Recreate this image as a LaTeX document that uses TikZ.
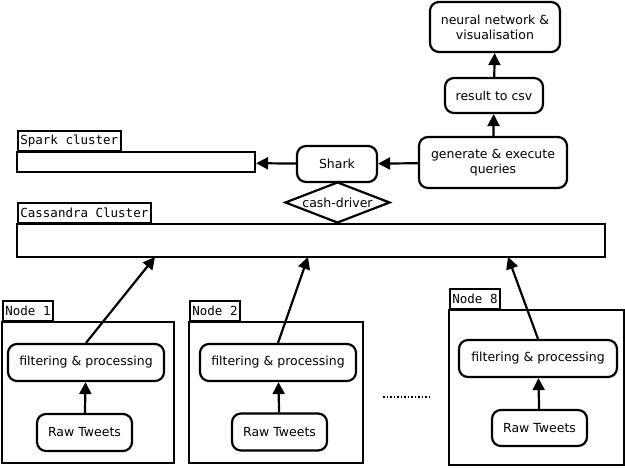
\documentclass[tikz,border=0pt]{standalone}
\usepackage{fontspec}
\setmainfont{DejaVu Sans}
\setmonofont{DejaVu Sans Mono}
\usetikzlibrary{shapes.geometric,arrows.meta}
\begin{document}
\begin{tikzpicture}[x=1pt,y=-1pt,
  font=\fontsize{12.5}{15}\selectfont,
  rbox/.style={draw,line width=2.2pt,rounded corners=9pt,inner sep=0pt,align=center},
  pbox/.style={draw,line width=2.2pt,inner sep=0pt},
  tag/.style={draw,line width=1.8pt,anchor=south west,inner xsep=2.5pt,inner ysep=0pt,minimum height=20pt,font=\fontsize{12.5}{15}\selectfont\ttfamily},
  arr/.style={line width=2.2pt,-{Triangle[length=12pt,width=12pt]}}]
\useasboundingbox (0,0) rectangle (625,468);
% clusters
\node[pbox,minimum width=238pt,minimum height=20pt] (spark) at (136,162) {};
\node[tag] (sparkt) at (17,152) {Spark cluster};
\node[pbox,minimum width=588pt,minimum height=33pt] (cass) at (311,240.5) {};
\node[tag] (casst) at (17,224) {Cassandra Cluster};
% top nodes
\node[rbox,minimum width=80pt,minimum height=36pt] (shark) at (337,164) {Shark};
\node[draw,diamond,line width=2.2pt,inner sep=0pt,minimum width=105pt,minimum height=41pt] (cd) at (337.5,202.5) {};
\node (cdt) at (cd) {cash-driver};
\node[rbox,minimum width=148pt,minimum height=51pt] (gen) at (493,162.5) {generate \& execute\\queries};
\node[rbox,minimum width=98pt,minimum height=35pt] (res) at (494,95.5) {result to csv};
\node[rbox,minimum width=130pt,minimum height=50pt] (nn) at (495,27) {neural network \&\\visualisation};
\draw[arr] (gen) -- (res);
\draw[arr] (res) -- (nn);
\draw[arr] (gen) -- (shark);
\draw[arr] (shark) -- (spark);
% worker nodes
\node[pbox,minimum width=172pt,minimum height=141pt] (n1) at (88,392.5) {};
\node[tag] (n1t) at (2,322) {Node 1};
\node[pbox,minimum width=174pt,minimum height=141pt] (n2) at (276,392.5) {};
\node[tag] (n2t) at (189,322) {Node 2};
\node[pbox,minimum width=175pt,minimum height=155pt] (n8) at (536.5,387.5) {};
\node[tag] (n8t) at (449,310) {Node 8};
\node[rbox,minimum width=156pt,minimum height=37pt] (f1) at (86,362.5) {filtering \& processing};
\node[rbox,minimum width=95pt,minimum height=37pt] (r1) at (84.5,432.5) {Raw Tweets};
\node[rbox,minimum width=156pt,minimum height=37pt] (f2) at (278,362.5) {filtering \& processing};
\node[rbox,minimum width=95pt,minimum height=37pt] (r2) at (279.5,432) {Raw Tweets};
\node[rbox,minimum width=158pt,minimum height=37pt] (f8) at (538,358.5) {filtering \& processing};
\node[rbox,minimum width=95pt,minimum height=36pt] (r8) at (539.5,428) {Raw Tweets};
\draw[arr] (r1) -- (f1);
\draw[arr] (r2) -- (f2);
\draw[arr] (r8) -- (f8);
\coordinate (c1) at (155,257);
\coordinate (c2) at (308,257);
\coordinate (c8) at (508,257);
\draw[arr] (f1.north) -- (c1);
\draw[arr] (f2.north) -- (c2);
\draw[arr] (f8.north) -- (c8);
\coordinate (d1) at (383,397);
\coordinate (d2) at (429,397);
\draw[line width=1.5pt,dotted] (d1) -- (d2);
\end{tikzpicture}
\end{document}
